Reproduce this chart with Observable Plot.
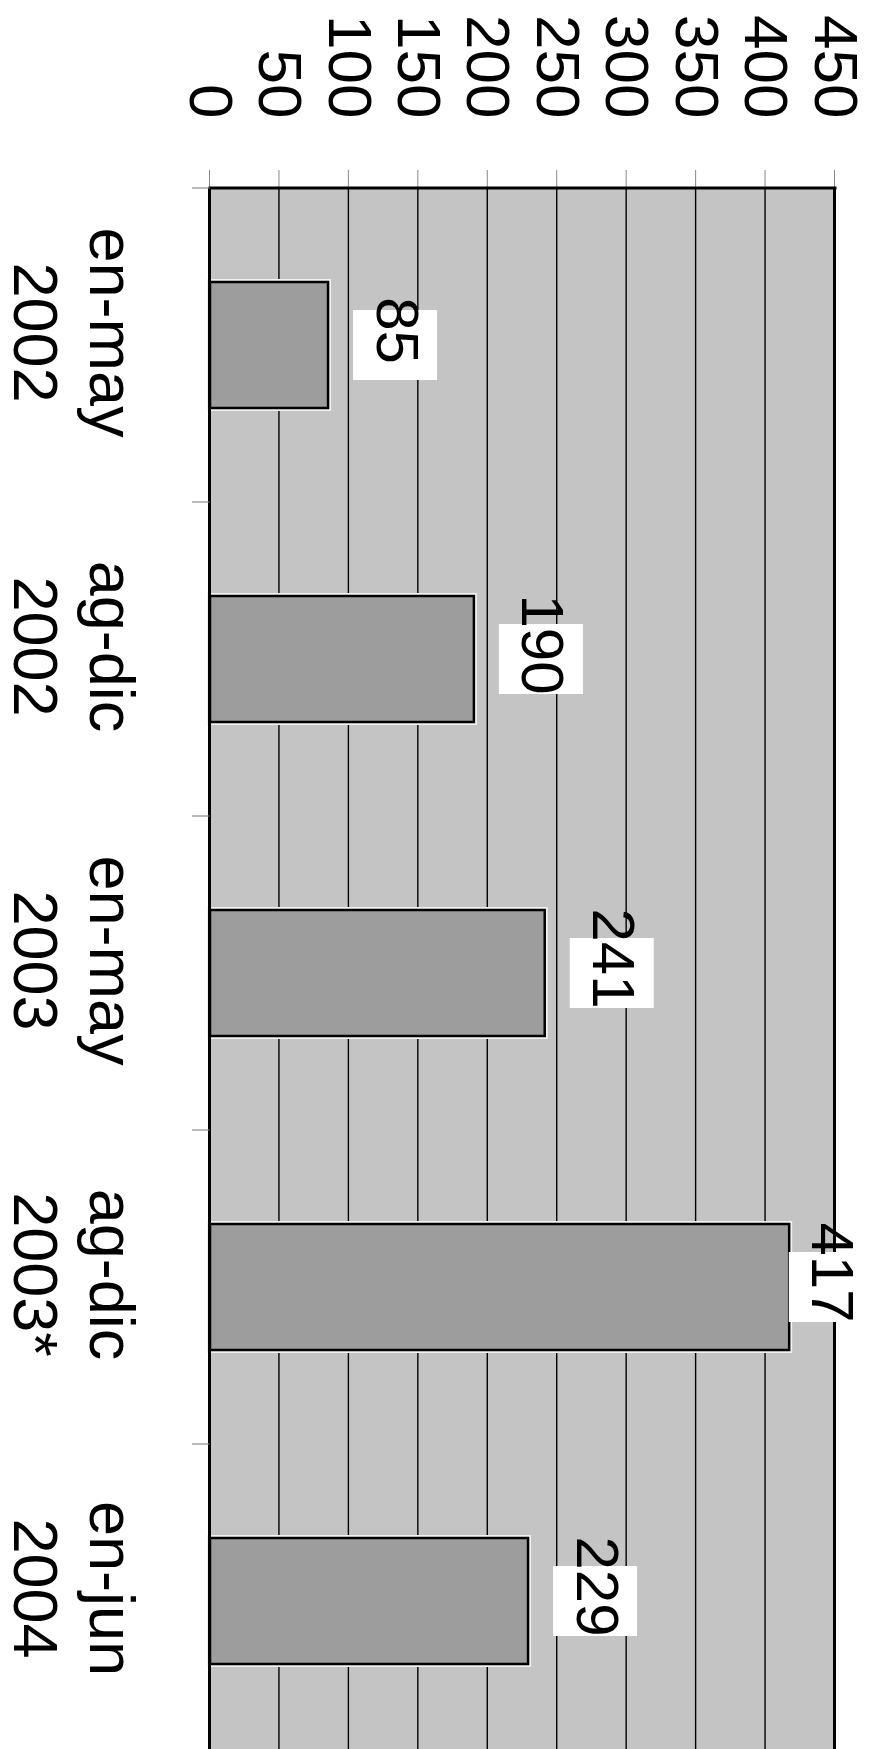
<!DOCTYPE html>
<html>
<head>
<meta charset="utf-8">
<script src="https://cdn.jsdelivr.net/npm/d3@7"></script>
<script src="https://cdn.jsdelivr.net/npm/@observablehq/plot@0.6"></script>
<style>
  html, body { margin: 0; padding: 0; background: #fff; }
  #wrap { position: relative; width: 876px; height: 1749px; overflow: hidden; background: #fff; }
  #rot { position: absolute; left: 0; top: 0; width: 1749px; height: 876px;
         transform-origin: 0 0; transform: translate(876px, 0) rotate(90deg); }
</style>
</head>
<body>
<div id="wrap"><div id="rot"></div></div>
<script>
// ---- data ----
const periods = ["en-may", "ag-dic", "en-may", "ag-dic", "en-jun"];
const years   = ["2002", "2002", "2003", "2003*", "2004"];
const values  = [85, 190, 241, 417, 229];
const yTicks  = [0, 50, 100, 150, 200, 250, 300, 350, 400, 450];
const gridTicks = [50, 100, 150, 200, 250, 300, 350, 400];

const data = periods.map((p, i) => ({cat: p + "\n" + years[i], value: values[i]}));
const cats = data.map(d => d.cat);

// data labels sit above the bar, but are kept inside the chart area
const labelGap = 35.3;    // value units between bar end and label baseline
const labelLimit = 434;   // highest allowed label baseline (value units)
const labelPos = d => Math.min(d.value + labelGap, labelLimit);

// frame left edge + category boundary ticks
function edges(index, scales, vals, dim) {
  const g = d3.create("svg:g");
  const x = scales.x;
  const y0 = dim.marginTop, y1 = dim.height - dim.marginBottom;
  g.append("line")
    .attr("x1", dim.marginLeft).attr("x2", dim.marginLeft)
    .attr("y1", y0 - 1.5).attr("y2", y1 + 1.5)
    .attr("stroke", "black").attr("stroke-width", 3);
  for (const c of cats) {
    const b = x(c) + x.bandwidth() / 2 - x.step() / 2;
    g.append("line")
      .attr("x1", b).attr("x2", b)
      .attr("y1", y1).attr("y2", y1 + 18)
      .attr("stroke", "#777").attr("stroke-width", 1);
  }
  return g.node();
}

const chart = Plot.plot({
  width: 1749,
  height: 876,
  marginLeft: 188,
  marginRight: 0,
  marginTop: 41,
  marginBottom: 210,
  style: {background: "white", fontFamily: "'Liberation Sans', Arial, Helvetica, sans-serif", color: "black"},
  x: {type: "band", domain: cats, range: [188, 1758], paddingInner: 0.6, paddingOuter: 0.3, axis: null},
  y: {domain: [0, 450], axis: null},
  marks: [
    Plot.frame({fill: "#c4c4c4", stroke: null}),
    Plot.ruleY(gridTicks, {stroke: "black", strokeWidth: 1.4}),
    Plot.axisY({ticks: yTicks, tickSize: 18, tickFormat: () => "", stroke: "#888", strokeWidth: 1, label: null}),
    Plot.axisY({ticks: yTicks, tickSize: 0, tickPadding: 70, fontSize: 62, fill: "black", label: null}),
    Plot.barY(data, {x: "cat", y: "value", fill: "none", stroke: "#f2f2f2", strokeWidth: 6}),
    Plot.barY(data, {x: "cat", y: "value", fill: "#9d9d9d", stroke: "black", strokeWidth: 2.5}),
    Plot.ruleY([0, 450], {stroke: "black", strokeWidth: 3}),
    edges,
    Plot.barY(data, {x: "cat", y1: d => labelPos(d) - 17.3, y2: d => labelPos(d) + 43.2, fill: "white", insetLeft: 28, insetRight: 28}),
    Plot.text(data, {x: "cat", y: labelPos, text: d => String(d.value), dx: -15, lineAnchor: "bottom", fontSize: 60, fill: "black"}),
    Plot.text(cats, {x: d => d, y: 0, text: d => d, dy: 196, dx: -13, lineAnchor: "bottom", lineHeight: 1.22, fontSize: 63, fill: "black"})
  ]
});
document.getElementById("rot").append(chart);
</script>
</body>
</html>
